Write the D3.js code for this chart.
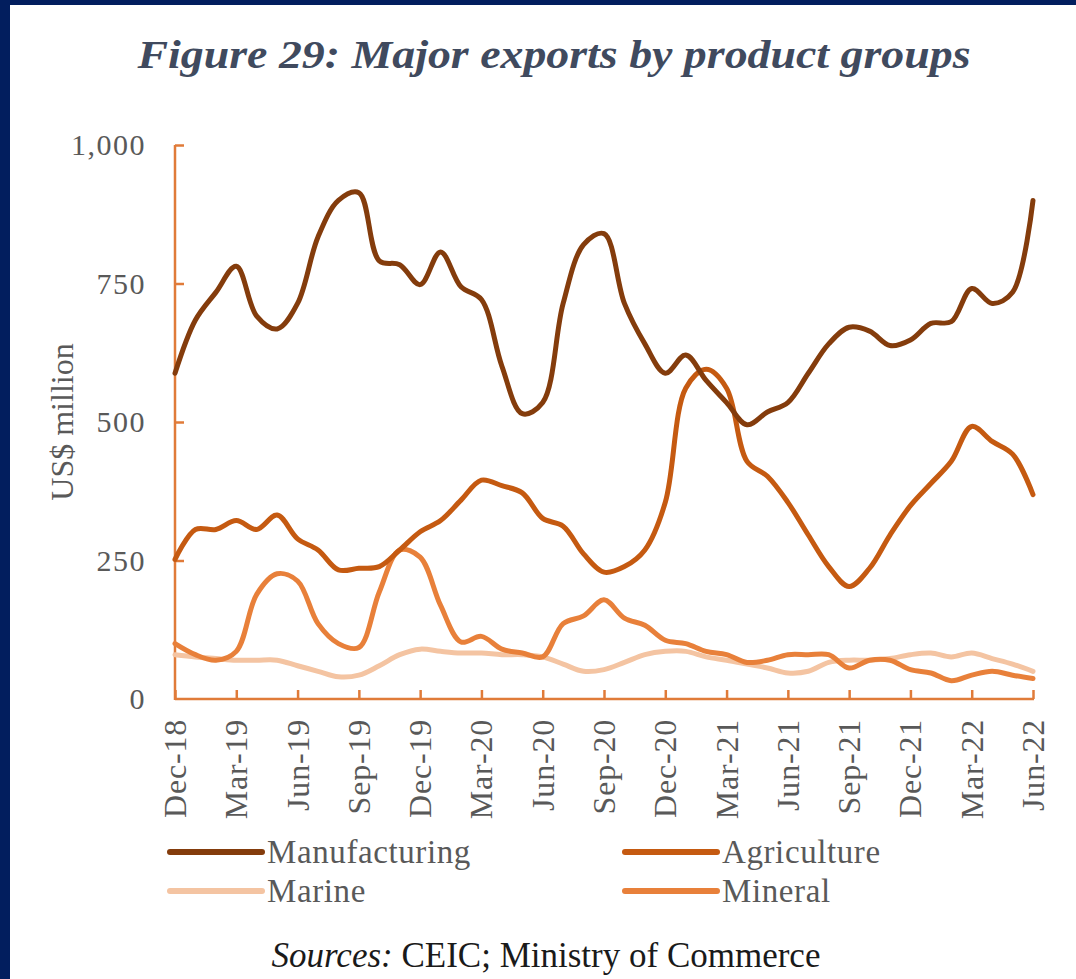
<!DOCTYPE html>
<html><head><meta charset="utf-8">
<script src="https://cdn.jsdelivr.net/npm/d3@7"></script>
<style>body{margin:0;background:#fff;}svg{display:block;}</style>
</head><body>
<script>
const months = ["Dec-18","Jan-19","Feb-19","Mar-19","Apr-19","May-19","Jun-19","Jul-19","Aug-19","Sep-19","Oct-19","Nov-19","Dec-19","Jan-20","Feb-20","Mar-20","Apr-20","May-20","Jun-20","Jul-20","Aug-20","Sep-20","Oct-20","Nov-20","Dec-20","Jan-21","Feb-21","Mar-21","Apr-21","May-21","Jun-21","Jul-21","Aug-21","Sep-21","Oct-21","Nov-21","Dec-21","Jan-22","Feb-22","Mar-22","Apr-22","May-22","Jun-22"];
const tickLabels = ["Dec-18","Mar-19","Jun-19","Sep-19","Dec-19","Mar-20","Jun-20","Sep-20","Dec-20","Mar-21","Jun-21","Sep-21","Dec-21","Mar-22","Jun-22"];
const yTicks = [0,250,500,750,1000];
const manufacturing = [588,684,734,781,691,668,714,834,900,914,791,784,748,807,744,721,601,515,535,714,820,840,714,641,588,621,575,535,495,518,535,588,641,671,664,638,648,678,681,741,714,734,900];
const agriculture = [252,306,306,322,306,332,289,269,233,236,239,269,302,322,359,395,385,372,326,312,262,229,239,269,355,561,595,561,429,402,355,296,239,203,236,296,349,389,429,492,465,442,369];
const marine = [80,76,73,70,70,70,60,50,40,43,60,80,90,86,83,83,80,80,76,63,50,53,66,80,86,86,76,70,63,56,47,50,66,70,70,73,80,83,76,83,73,63,50];
const mineral = [100,80,70,86,189,226,213,136,100,93,193,269,256,169,103,113,90,83,76,136,150,179,146,133,106,100,86,80,66,70,80,80,80,56,70,70,53,47,33,43,50,43,37];
const seriesNames = ["Manufacturing","Agriculture","Marine","Mineral"];
const seriesColors = ["#843c0c","#c55a11","#f4c4a2","#e8803a"];

const W=1076,H=979;
const svg=d3.select("body").append("svg").attr("width",W).attr("height",H);
svg.append("rect").attr("width",W).attr("height",H).attr("fill","#fff");
svg.append("rect").attr("x",0).attr("y",0).attr("width",10).attr("height",H).attr("fill","#021e5e");
svg.append("rect").attr("x",0).attr("y",0).attr("width",W).attr("height",5).attr("fill","#021e5e");

const serif="'Liberation Serif','DejaVu Serif',serif";
svg.append("text").attr("x",554).attr("y",68).attr("text-anchor","middle")
  .attr("font-family",serif).attr("font-style","italic").attr("font-weight","bold")
  .attr("font-size",39).attr("fill","#404a5e").attr("textLength",833).attr("lengthAdjust","spacingAndGlyphs")
  .text("Figure 29: Major exports by product groups");

const x=d3.scalePoint().domain(months).range([175,1033]);
const y=d3.scaleLinear().domain([0,1000]).range([699,145]);
const axisColor="#e07b39";

const gx=svg.append("g").attr("transform","translate(0,699)")
  .call(d3.axisBottom(x).tickValues(tickLabels).tickSize(-9).tickSizeOuter(0).tickFormat(""));
gx.selectAll("line,path").attr("stroke",axisColor).attr("stroke-width",2.5);
gx.select(".domain").attr("d","M175,0H1034");

const gy=svg.append("g").attr("transform","translate(175,0)")
  .call(d3.axisLeft(y).tickValues(yTicks).tickSize(-9).tickSizeOuter(0).tickFormat(""));
gy.selectAll("line,path").attr("stroke",axisColor).attr("stroke-width",2.5);
gy.select(".domain").attr("d","M0,145V700");
gy.selectAll(".tick").filter(d=>d===0).select("line").remove();

// y tick labels
svg.append("g").selectAll("text").data(yTicks).join("text")
  .attr("x",146).attr("y",d=>y(d)+10).attr("text-anchor","end")
  .attr("font-family",serif).attr("font-size",30).attr("letter-spacing",1.5).attr("fill","#595959")
  .text(d=>d3.format(",")(d));
svg.append("text").attr("transform","translate(73,422) rotate(-90)").attr("text-anchor","middle")
  .attr("font-family",serif).attr("font-size",32).attr("fill","#595959").text("US$ million");

// x tick labels
svg.append("g").selectAll("text").data(tickLabels).join("text")
  .attr("transform",d=>`translate(${x(d)+11},719) rotate(-90)`).attr("text-anchor","end")
  .attr("font-family",serif).attr("font-size",32).attr("letter-spacing",0.8).attr("fill","#595959").text(d=>d);

const line=d3.line().x((d,i)=>x(months[i])).y(d=>y(d)).curve(d3.curveCatmullRom.alpha(0.5));
const data=[manufacturing,agriculture,marine,mineral];
const order=[2,3,1,0];
order.forEach(k=>{
  svg.append("path").datum(data[k]).attr("d",line).attr("fill","none")
    .attr("stroke",seriesColors[k]).attr("stroke-width",5).attr("stroke-linejoin","round").attr("stroke-linecap","round");
});

// legend
const legPos=[[170,852],[625,852],[170,891],[625,891]];
seriesNames.forEach((n,k)=>{
  const [lx,ly]=legPos[k];
  svg.append("line").attr("x1",lx).attr("x2",lx+92).attr("y1",ly).attr("y2",ly)
    .attr("stroke",seriesColors[k]).attr("stroke-width",6).attr("stroke-linecap","round");
  svg.append("text").attr("x",lx+97).attr("y",ly+11).attr("font-family",serif).attr("font-size",33)
    .attr("letter-spacing",0.6).attr("fill","#595959").text(n);
});

const src=svg.append("text").attr("x",546).attr("y",967).attr("text-anchor","middle")
  .attr("font-family",serif).attr("font-size",35).attr("fill","#1a1a1a");
src.append("tspan").attr("font-style","italic").text("Sources:");
src.append("tspan").text(" CEIC; Ministry of Commerce");
</script>
</body></html>
